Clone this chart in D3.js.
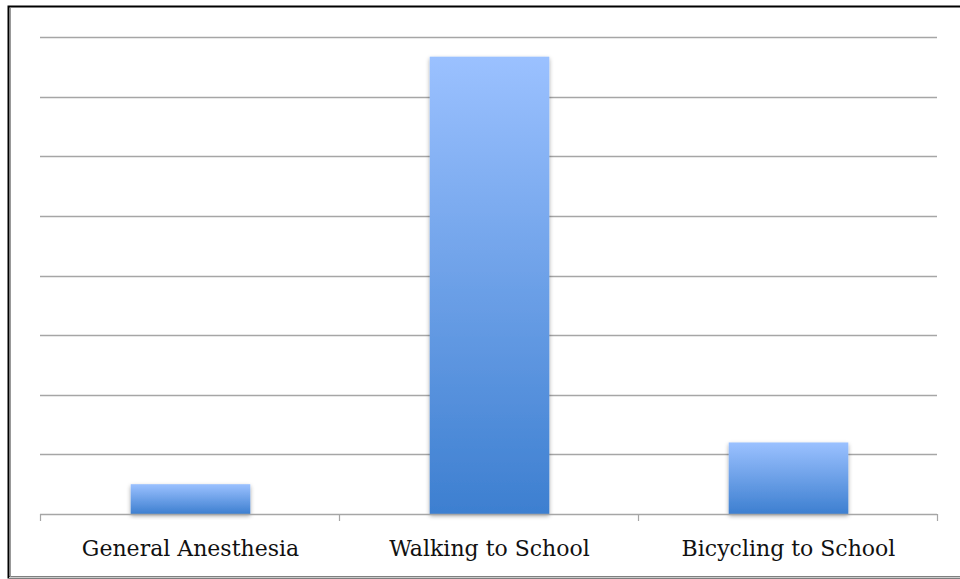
<!DOCTYPE html>
<html>
<head>
<meta charset="utf-8">
<style>
  body { margin: 0; background: #fff; }
  .label { font-family: "DejaVu Serif", "Liberation Serif", serif; font-size: 22px; fill: #111; }
</style>
</head>
<body>
<svg id="chart" width="960" height="579"></svg>
<script src="https://d3js.org/d3.v7.min.js"></script>
<script>
var categories = ["General Anesthesia", "Walking to School", "Bicycling to School"];
var values = [0.5, 7.67, 1.2];
var yTicks = [0, 1, 2, 3, 4, 5, 6, 7, 8];

var svg = d3.select("#chart"),
    margin = {top: 37, right: 23, bottom: 65, left: 40},
    width = +svg.attr("width") - margin.left - margin.right,
    height = +svg.attr("height") - margin.top - margin.bottom;

// frame (cropped on right side like the original)
svg.append("rect")
    .attr("x", 8.5).attr("y", 6.5)
    .attr("width", 970).attr("height", 571)
    .attr("fill", "none").attr("stroke", "#000").attr("stroke-width", 2);
svg.append("line")
    .attr("x1", 10.5).attr("x2", 10.5).attr("y1", 8).attr("y2", 577)
    .attr("stroke", "#999").attr("stroke-width", 1);
svg.append("line")
    .attr("x1", 9).attr("x2", 960).attr("y1", 577.5).attr("y2", 577.5)
    .attr("stroke", "#ccc").attr("stroke-width", 1);

var defs = svg.append("defs");
var grad = defs.append("linearGradient")
    .attr("id", "barGrad")
    .attr("x1", 0).attr("y1", 0).attr("x2", 0).attr("y2", 1);
grad.append("stop").attr("offset", "0%").attr("stop-color", "#9bc1ff");
grad.append("stop").attr("offset", "100%").attr("stop-color", "#3d7fd0");

var shadow = defs.append("filter").attr("id", "shadow")
    .attr("x", "-10%").attr("y", "-10%").attr("width", "120%").attr("height", "130%");
shadow.append("feDropShadow")
    .attr("dx", 0).attr("dy", 2).attr("stdDeviation", 2)
    .attr("flood-color", "#000").attr("flood-opacity", 0.35);

var g = svg.append("g").attr("transform", "translate(" + margin.left + "," + margin.top + ")");

var x = d3.scaleBand()
    .domain(categories)
    .range([1, width + 1])
    .paddingInner(0.6)
    .paddingOuter(0.3);

var y = d3.scaleLinear()
    .domain([0, 8])
    .range([height, 0]);

// gridlines
g.append("g")
  .selectAll("line")
  .data(yTicks.slice(1))
  .enter().append("line")
    .attr("x1", 0).attr("x2", width)
    .attr("y1", function(d) { return Math.round(y(d)) + 0.5; })
    .attr("y2", function(d) { return Math.round(y(d)) + 0.5; })
    .attr("stroke", "#a6a6a6")
    .attr("stroke-width", 1.5);

// bars
g.append("g")
  .selectAll("rect")
  .data(values)
  .enter().append("rect")
    .attr("x", function(d, i) { return x(categories[i]); })
    .attr("y", function(d) { return y(d); })
    .attr("width", x.bandwidth())
    .attr("height", function(d) { return height - y(d); })
    .attr("fill", "url(#barGrad)")
    .attr("filter", "url(#shadow)");

// x axis with ticks on category boundaries
var bounds = d3.range(categories.length + 1).map(function(i) { return i * width / categories.length; });
var xAxis = g.append("g").attr("transform", "translate(0," + height + ")");
xAxis.append("line")
    .attr("x1", 0).attr("x2", width).attr("y1", 0.5).attr("y2", 0.5)
    .attr("stroke", "#a6a6a6").attr("stroke-width", 1.5);
xAxis.selectAll(".tick")
  .data(bounds)
  .enter().append("line")
    .attr("x1", function(d) { return Math.round(d) + 0.5; })
    .attr("x2", function(d) { return Math.round(d) + 0.5; })
    .attr("y1", 0).attr("y2", 7)
    .attr("stroke", "#a6a6a6").attr("stroke-width", 1.2);
xAxis.selectAll("text")
  .data(categories)
  .enter().append("text")
    .attr("class", "label")
    .attr("x", function(d) { return x(d) + x.bandwidth() / 2; })
    .attr("y", 42)
    .attr("text-anchor", "middle")
    .text(function(d) { return d; });
</script>
</body>
</html>
